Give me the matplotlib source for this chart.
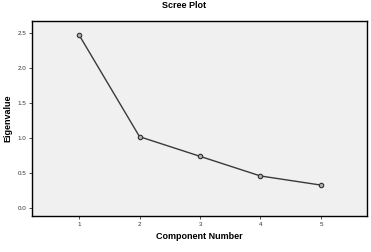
import matplotlib
matplotlib.use('Agg')
import matplotlib.pyplot as plt

# Scree plot data
components = [1, 2, 3, 4, 5]
eigenvalues = [2.47, 1.02, 0.74, 0.46, 0.33]
yticks = [0.0, 0.5, 1.0, 1.5, 2.0, 2.5]

plt.rcParams['font.family'] = ['Liberation Sans', 'DejaVu Sans']

fig = plt.figure(figsize=(3.71, 2.52), dpi=100)
ax = fig.add_axes([0.086, 0.143, 0.903, 0.774])
ax.set_facecolor('#f0f0f0')

ax.plot(components, eigenvalues, '-', color='#3a3a3a', linewidth=1.0,
        marker='o', markersize=3.2, markerfacecolor='#b0b0b0',
        markeredgecolor='#303030', markeredgewidth=0.8)

ax.set_xlim(0.22, 5.76)
ax.set_ylim(-0.11, 2.67)
ax.set_xticks(components)
ax.set_xticklabels([str(c) for c in components], fontsize=4.5)
ax.set_yticks(yticks)
ax.set_yticklabels([f'{t:.1f}' for t in yticks], fontsize=4.5)
ax.tick_params(length=2.5, width=0.6, pad=1.5, colors='#333333')

for s in ax.spines.values():
    s.set_linewidth(1.0)
    s.set_color('black')

ax.set_xlabel('Component Number', fontsize=6.5, weight='bold', labelpad=4)
ax.set_ylabel('Eigenvalue', fontsize=6.5, weight='bold', labelpad=4)
fig.text(0.496, 0.998, 'Scree Plot', ha='center', va='top', fontsize=6.5, weight='bold')

fig.savefig('out.png', dpi=100, facecolor='white')
